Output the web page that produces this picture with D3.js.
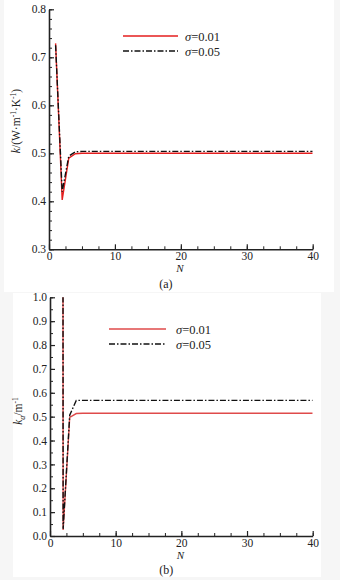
<!DOCTYPE html>
<html><head><meta charset="utf-8">
<script src="https://cdn.jsdelivr.net/npm/d3@7"></script>
<style>
html,body{margin:0;padding:0;background:#f6f6f6;}
svg{display:block;}
text{font-family:"Liberation Serif","Times New Roman",Times,serif;fill:#222;}
</style></head>
<body>
<script>
// ---- Data ----
const nA = [1, 2, 3, 4, 5, 6, 8, 10, 15, 20, 25, 30, 35, 40];
const kRed01 = [0.729, 0.403, 0.490, 0.499, 0.500, 0.500, 0.500, 0.500, 0.500, 0.500, 0.500, 0.500, 0.500, 0.500];
const kBlack05 = [0.725, 0.420, 0.494, 0.503, 0.504, 0.504, 0.504, 0.504, 0.504, 0.504, 0.504, 0.504, 0.504, 0.504];

const nB = [1, 2, 3, 4, 5, 6, 8, 10, 15, 20, 25, 30, 35, 40];
const kaRed01 = [50, 0.025, 0.497, 0.513, 0.514, 0.514, 0.514, 0.514, 0.514, 0.514, 0.514, 0.514, 0.514, 0.514];
const kaBlack05 = [50, 0.03, 0.506, 0.568, 0.568, 0.568, 0.568, 0.568, 0.568, 0.568, 0.568, 0.568, 0.568, 0.568];

const xTicks = [0, 10, 20, 30, 40];
const yTicksA = [0.3, 0.4, 0.5, 0.6, 0.7, 0.8];
const yTicksB = [0.0, 0.1, 0.2, 0.3, 0.4, 0.5, 0.6, 0.7, 0.8, 0.9, 1.0];
const legendLabels = ["0.01", "0.05"];

const W = 340, H = 580;
const svg = d3.select("body").append("svg").attr("width", W).attr("height", H);

// panel backgrounds
svg.append("rect").attr("x", 4).attr("y", 0).attr("width", 330).attr("height", 292).attr("fill", "#fff");
svg.append("rect").attr("x", 13).attr("y", 293).attr("width", 308).attr("height", 284).attr("fill", "#fff");

function minorVals(lo, hi, step) {
  const out = [];
  const n = Math.round((hi - lo) / step);
  for (let i = 0; i <= n; i++) out.push(+(lo + i * step).toFixed(4));
  return out;
}

function panel(opt) {
  const g = svg.append("g");
  const x = d3.scaleLinear().domain([0, 40]).range([opt.left, opt.right]);
  const y = d3.scaleLinear().domain(opt.yDomain).range([opt.bottom, opt.top]);
  const clipId = "clip" + opt.id;
  svg.append("clipPath").attr("id", clipId).append("rect")
    .attr("x", opt.left).attr("y", opt.top).attr("width", opt.right - opt.left).attr("height", opt.bottom - opt.top);

  // minor ticks
  g.append("g").attr("transform", `translate(0,${opt.bottom})`)
    .call(d3.axisBottom(x).tickValues(minorVals(0, 40, 2.5)).tickSize(-3).tickSizeOuter(0).tickFormat(""))
    .call(s => s.select(".domain").remove())
    .selectAll("line").attr("stroke", "#222").attr("stroke-width", 1);
  g.append("g").attr("transform", `translate(${opt.left},0)`)
    .call(d3.axisLeft(y).tickValues(minorVals(opt.yDomain[0], opt.yDomain[1], opt.yMinor)).tickSize(-3).tickSizeOuter(0).tickFormat(""))
    .call(s => s.select(".domain").remove())
    .selectAll("line").attr("stroke", "#222").attr("stroke-width", 1);

  // major axes
  const xa = g.append("g").attr("transform", `translate(0,${opt.bottom})`)
    .call(d3.axisBottom(x).tickValues(xTicks).tickSize(-5).tickSizeOuter(0).tickPadding(2.5).tickFormat(d3.format("d")));
  const ya = g.append("g").attr("transform", `translate(${opt.left},0)`)
    .call(d3.axisLeft(y).tickValues(opt.yTicks).tickSize(-5).tickSizeOuter(0).tickPadding(3).tickFormat(d3.format(".1f")));
  [xa, ya].forEach(a => {
    a.select(".domain").attr("stroke", "#222").attr("stroke-width", 1.6);
    a.selectAll(".tick line").attr("stroke", "#222").attr("stroke-width", 1.2);
    a.selectAll("text").attr("font-size", "11.5px").attr("fill", "#222")
      .attr("font-family", "Liberation Serif, serif");
  });

  const line = d3.line().x(d => x(d[0])).y(d => y(d[1]));
  const lg = g.append("g").attr("clip-path", `url(#${clipId})`);
  lg.append("path").datum(opt.n.map((d, i) => [d, opt.red[i]]))
    .attr("d", line).attr("fill", "none").attr("stroke", opt.redColor).attr("stroke-width", 1.4);
  lg.append("path").datum(opt.n.map((d, i) => [d, opt.black[i]]))
    .attr("d", line).attr("fill", "none").attr("stroke", "#111").attr("stroke-width", 1.4)
    .attr("stroke-dasharray", "6,2,1.5,2");

  // legend
  const L = opt.legend;
  [[opt.redColor, null], ["#111", "6,2,1.5,2"]].forEach((s, i) => {
    const yy = L.y + i * 15;
    g.append("line").attr("x1", L.x1).attr("x2", L.x2).attr("y1", yy).attr("y2", yy)
      .attr("stroke", s[0]).attr("stroke-width", 1.4).attr("stroke-dasharray", s[1]);
    const t = g.append("text").attr("x", L.tx).attr("y", yy + 4.5).attr("font-size", "12.5px");
    t.append("tspan").attr("font-style", "italic").text("σ");
    t.append("tspan").text("=" + legendLabels[i]);
  });

  // x label and caption
  g.append("text").attr("x", (opt.left + opt.right) / 2 - 1).attr("y", opt.bottom + opt.nDy)
    .attr("text-anchor", "middle").attr("font-size", "11px").attr("font-style", "italic").text("N");
  g.append("text").attr("x", (opt.left + opt.right) / 2 - 15).attr("y", opt.bottom + opt.capDy)
    .attr("text-anchor", "middle").attr("font-size", "12px").text(opt.caption);

  // y label
  const yl = g.append("text").attr("transform", `translate(${opt.ylx},${opt.yly}) rotate(-90)`)
    .attr("text-anchor", "middle").attr("font-size", "11.5px");
  opt.yLabel(yl);
}

panel({
  id: "a", left: 49, right: 312.7, top: 9.3, bottom: 249.3,
  yDomain: [0.3, 0.8], yTicks: yTicksA, yMinor: 0.02,
  n: nA, red: kRed01, black: kBlack05, redColor: "#e41e1e",
  legend: {x1: 123, x2: 178, y: 36, tx: 185},
  caption: "(a)", nDy: 23, capDy: 39, ylx: 20, yly: 121,
  yLabel: t => {
    t.append("tspan").attr("font-style", "italic").text("k");
    t.append("tspan").text("/(W·m");
    t.append("tspan").attr("font-size", "7.5px").attr("dy", -4).text("-1");
    t.append("tspan").attr("dy", 4).text("·K");
    t.append("tspan").attr("font-size", "7.5px").attr("dy", -4).text("-1");
    t.append("tspan").attr("dy", 4).text(")");
  }
});

panel({
  id: "b", left: 50, right: 312.7, top: 297.3, bottom: 536,
  yDomain: [0, 1], yTicks: yTicksB, yMinor: 0.05,
  n: nB, red: kaRed01, black: kaBlack05, redColor: "#df4a4a",
  legend: {x1: 109, x2: 166, y: 329, tx: 176},
  caption: "(b)", nDy: 22.5, capDy: 38, ylx: 22, yly: 411,
  yLabel: t => {
    t.append("tspan").attr("font-style", "italic").text("k");
    t.append("tspan").attr("font-style", "italic").attr("font-size", "8px").attr("dy", 3).text("a");
    t.append("tspan").attr("dy", -3).text("/m");
    t.append("tspan").attr("font-size", "7.5px").attr("dy", -4).text("-1");
  }
});
</script>
</body></html>
